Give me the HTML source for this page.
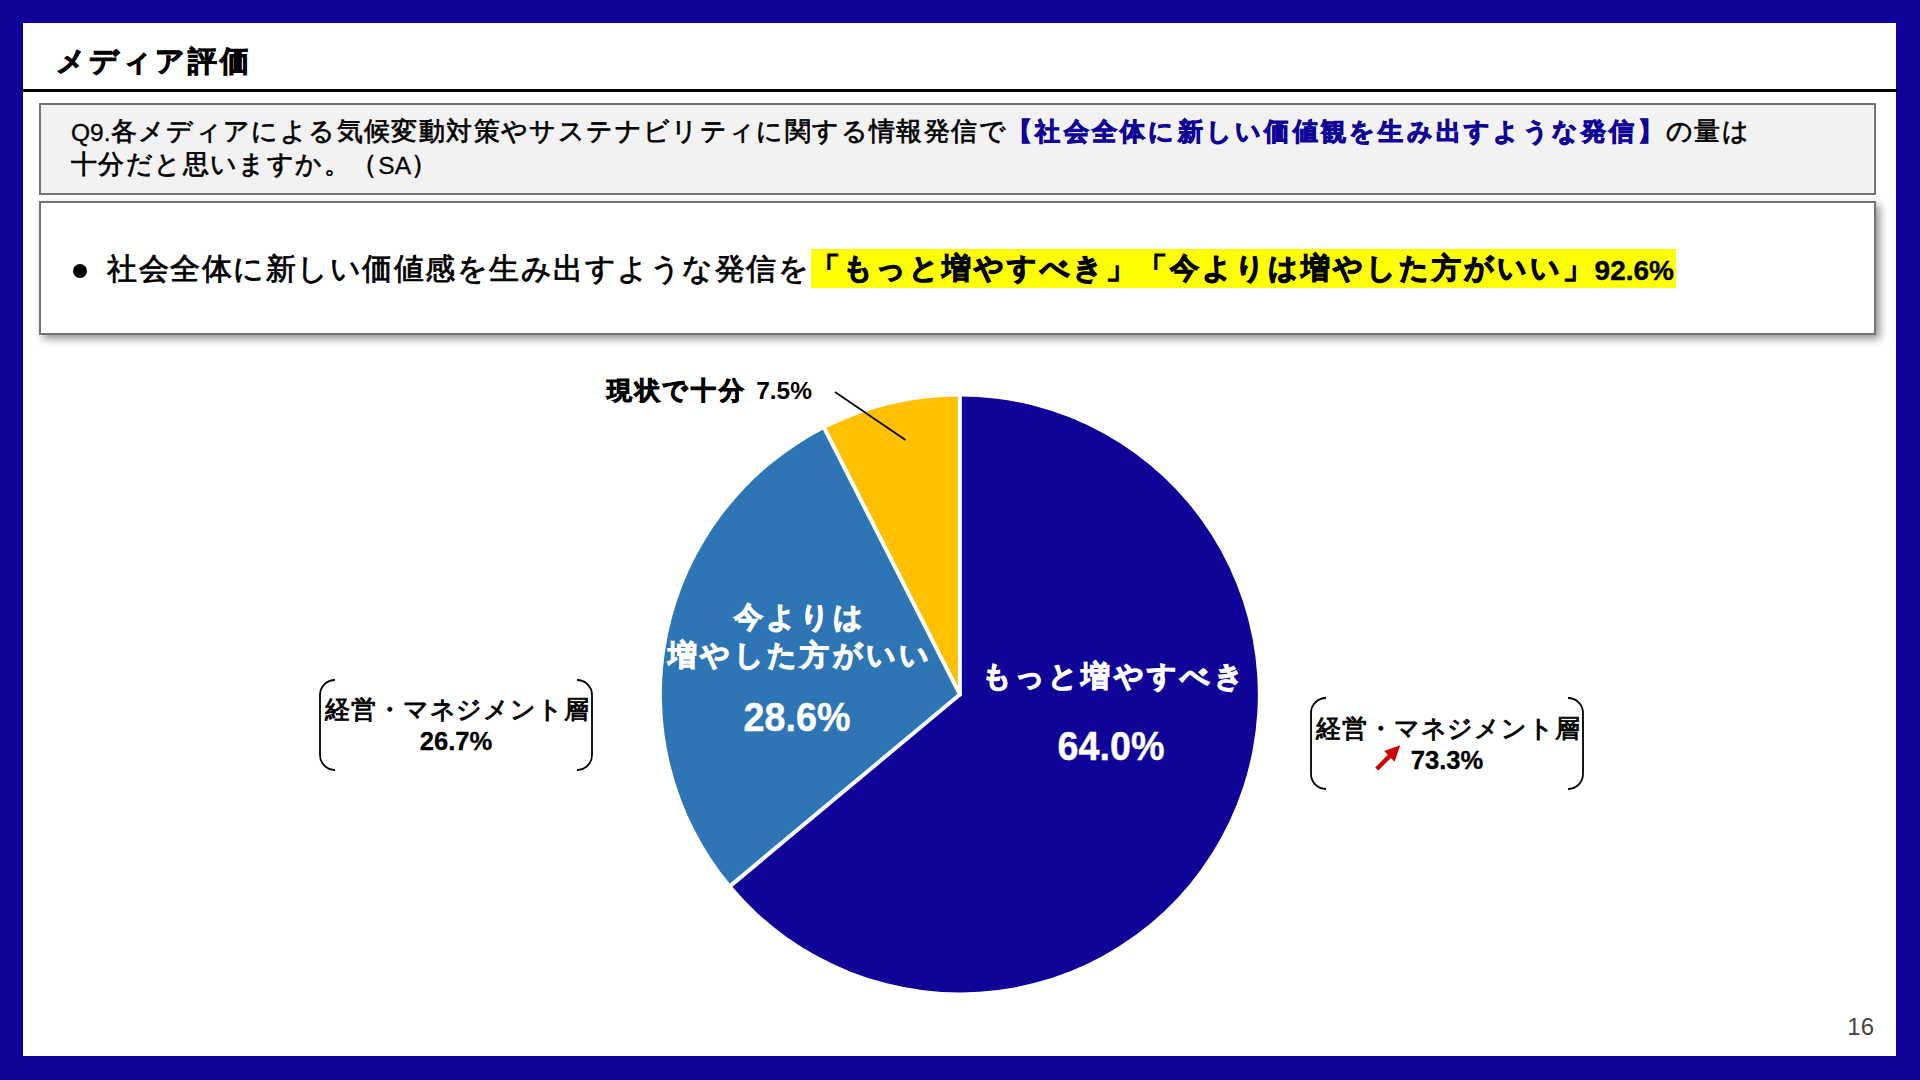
<!DOCTYPE html>
<html lang="ja">
<head>
<meta charset="utf-8">
<title>メディア評価</title>
<style>
  html, body { margin: 0; padding: 0; }
  body {
    width: 1920px; height: 1080px; overflow: hidden; position: relative;
    background: #100498;
    font-family: "Liberation Sans", sans-serif;
    color: #000;
  }
  .abs { position: absolute; }
  .slide { left: 22.5px; top: 22.5px; width: 1873.5px; height: 1033.5px; background: #fff; }

  /* text weights: strokes nudge the glyph weight toward the reference */
  .bold { font-weight: bold; -webkit-text-stroke: 1.1px currentColor; }
  .lat { letter-spacing: 0 !important; -webkit-text-stroke: 0 !important; }

  .title {
    left: 55.5px; top: 38px; font-size: 28.5px; letter-spacing: 3.08px; line-height: 46px;
    white-space: nowrap; -webkit-text-stroke: 0.9px currentColor;
  }
  .rule { left: 23px; top: 89px; width: 1874px; height: 3px; background: #000; }

  .qbox {
    left: 39px; top: 103px; width: 1833px; height: 88px;
    border: 2px solid #747474; background: #f2f2f2;
  }
  .qtext {
    left: 71px; top: 115px; font-size: 26.4px; letter-spacing: 1.39px; line-height: 33px; white-space: nowrap;
    -webkit-text-stroke: 0.7px currentColor;
  }
  .qtext .lat { font-size: 24.5px; position: relative; top: 1px; -webkit-text-stroke: 0.3px currentColor !important; }
  .qtext b { color: #100498; font-size: 24.9px; letter-spacing: 3.26px; -webkit-text-stroke: 1px currentColor; }

  .sbox {
    left: 39px; top: 201px; width: 1833px; height: 130px;
    border: 2px solid #747474; background: #fff;
    box-shadow: 4px 4px 8px rgba(0,0,0,0.42);
  }
  .bullet { left: 73px; top: 264px; width: 14px; height: 14px; border-radius: 50%; background: #000; }
  .stext {
    left: 107px; top: 249px; font-size: 30.3px; letter-spacing: 1.525px; line-height: 39px; white-space: nowrap;
    -webkit-text-stroke: 0.8px currentColor;
  }
  .stext b {
    background: #ffff00; display: inline-block; height: 39px; vertical-align: top; padding-right: 2px;
    font-size: 28.5px; letter-spacing: 3.0px; -webkit-text-stroke: 1.1px currentColor;
  }
  .stext .lat { font-size: 28px; position: relative; top: 1.5px; -webkit-text-stroke: 0.4px currentColor !important; }

  .plabel { color: #fff; text-align: center; white-space: nowrap; font-size: 28.5px; letter-spacing: 3.3px; line-height: 37px; padding-left: 3.3px; }
  .pnum { color: #fff; font-weight: bold; -webkit-text-stroke: 0.4px currentColor; text-align: center; white-space: nowrap; font-size: 37.7px; line-height: 40px; transform: scaleY(1.075); }

  .call {
    font-size: 25.25px; letter-spacing: 0.99px; line-height: 33px; text-align: center; white-space: nowrap;
    -webkit-text-stroke: 0.9px currentColor;
  }
  .call .n { font-weight: bold; font-size: 25.6px; letter-spacing: 0; -webkit-text-stroke: 0.3px currentColor; position: relative; left: -1.5px; top: -1px; }

  .toplabel { left: 607px; top: 372px; font-size: 24.9px; letter-spacing: 2.7px; line-height: 36px; white-space: nowrap; -webkit-text-stroke: 1px currentColor; }
  .toplabel .lat { font-size: 24.5px; }

  .pageno { left: 1820px; top: 1012px; width: 54px; text-align: right; font-size: 24px; line-height: 30px; color: #444; }
</style>
</head>
<body>
  <div class="abs slide"></div>

  <div class="abs title bold">メディア評価</div>
  <div class="abs rule"></div>

  <div class="abs qbox"></div>
  <div class="abs qtext"><span class="lat">Q9.</span>各メディアによる気候変動対策やサステナビリティに関する情報発信で<b class="bold">【社会全体に新しい価値観を生み出すような発信】</b>の量は<br>十分だと思いますか。（<span class="lat">SA</span>）</div>

  <div class="abs sbox"></div>
  <div class="abs bullet"></div>
  <div class="abs stext">社会全体に新しい価値感を生み出すような発信を<b class="bold">「もっと増やすべき」「今よりは増やした方がいい」<span class="lat">92.6%</span></b></div>

  <!-- pie chart -->
  <svg class="abs" style="left:0;top:0" width="1920" height="1080" viewBox="0 0 1920 1080">
    <g>
      <path fill="#100498" d="M959.85 694.45 L959.85 396.45 A298 298 0 1 1 731.00 885.32 Z"/>
      <path fill="#2e75b6" d="M959.85 694.45 L731.00 885.32 A298 298 0 0 1 824.69 428.87 Z"/>
      <path fill="#ffc000" d="M959.85 694.45 L824.69 428.87 A298 298 0 0 1 959.85 396.45 Z"/>
    </g>
    <g stroke="#fff" stroke-width="4" stroke-linecap="round">
      <line x1="959.85" y1="694.45" x2="959.85" y2="394.45"/>
      <line x1="959.85" y1="694.45" x2="729.47" y2="886.60"/>
      <line x1="959.85" y1="694.45" x2="823.78" y2="427.08"/>
    </g>
    <line x1="835" y1="392" x2="905.5" y2="440" stroke="#000" stroke-width="1.7"/>
    <!-- brackets left -->
    <g fill="none" stroke="#000" stroke-width="1.8">
      <path d="M335 680 A15 15 0 0 0 320 695 L320 755 A15 15 0 0 0 335 770"/>
      <path d="M577 680 A15 15 0 0 1 592 695 L592 755 A15 15 0 0 1 577 770"/>
      <path d="M1326 698 A15 15 0 0 0 1311 713 L1311 774 A15 15 0 0 0 1326 789"/>
      <path d="M1568 698 A15 15 0 0 1 1583 713 L1583 774 A15 15 0 0 1 1568 789"/>
    </g>
    <!-- red arrow -->
    <path fill="#cc0000" d="M1375.2 767.5 L1387.85 754.8 L1384.2 751 L1400.2 745.2 L1394.6 761.7 L1390.95 757.9 L1378.3 770.6 Z"/>
  </svg>

  <div class="abs toplabel bold">現状で十分 <span class="lat">7.5%</span></div>

  <div class="abs plabel bold" style="left:647px;top:597.6px;width:300px;line-height:38px;">今よりは<br>増やした方がいい</div>
  <div class="abs pnum" style="left:647px;top:697.1px;width:300px;">28.6%</div>

  <div class="abs plabel bold" style="left:961px;top:658px;width:300px;">もっと増やすべき</div>
  <div class="abs pnum" style="left:961px;top:726.25px;width:300px;">64.0%</div>

  <div class="abs call" style="left:321.5px;top:693px;width:272px;">経営・マネジメント層<br><span class="n">26.7%</span></div>
  <div class="abs call" style="left:1312.5px;top:712px;width:272px;">経営・マネジメント層<br><span class="n">73.3%</span></div>

  <div class="abs pageno">16</div>
</body>
</html>
